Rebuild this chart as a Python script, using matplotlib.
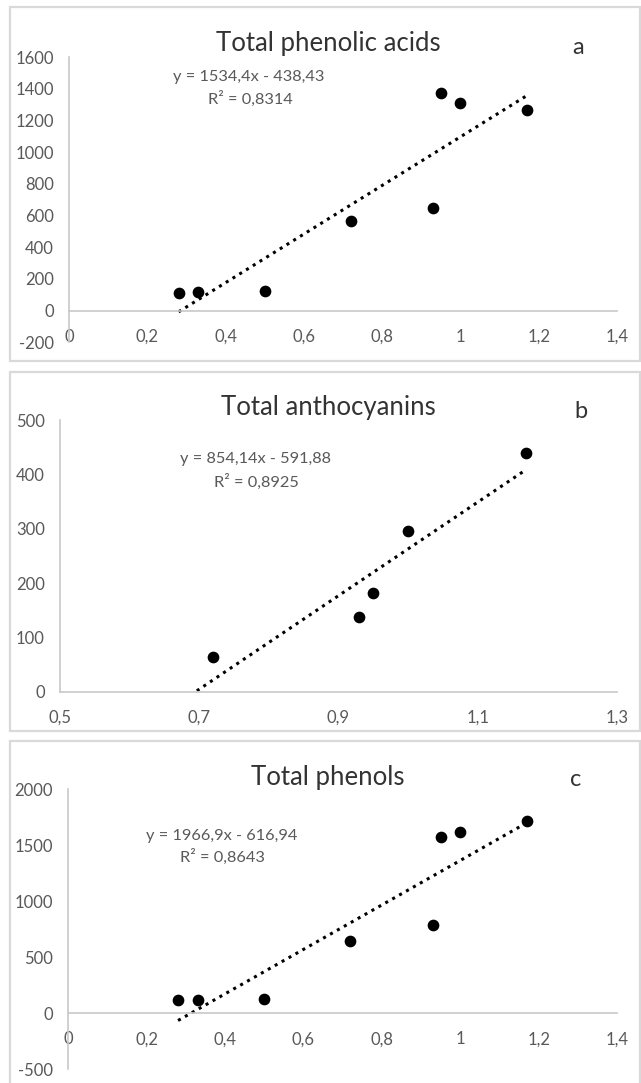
import numpy as np
import matplotlib
matplotlib.use("Agg")
import matplotlib.pyplot as plt
from matplotlib.patches import Rectangle
from matplotlib.ticker import FuncFormatter

plt.rcParams['font.family'] = ['Lato', 'DejaVu Sans']

# panel a: total phenolic acids
x_acids = [0.28, 0.33, 0.50, 0.72, 0.93, 0.95, 1.00, 1.17]
y_acids = [113, 120, 126, 567, 647, 1373, 1312, 1264]
# panel b: total anthocyanins
x_antho = [0.72, 0.93, 0.95, 1.00, 1.17]
y_antho = [63, 138, 181, 295, 439]
# panel c: total phenols
x_phen = [0.28, 0.33, 0.50, 0.72, 0.93, 0.95, 1.00, 1.17]
y_phen = [116, 116, 128, 643, 789, 1574, 1616, 1714]

titles = ["Total phenolic acids", "Total anthocyanins", "Total phenols"]
letters = ["a", "b", "c"]
equations = ["y = 1534,4x - 438,43", "y = 854,14x - 591,88", "y = 1966,9x - 616,94"]
r2_labels = ["R\u00b2 = 0,8314", "R\u00b2 = 0,8925", "R\u00b2 = 0,8643"]

W, H = 641, 1083
fig = plt.figure(figsize=(W / 100, H / 100), dpi=100)


def fx(px):
    return px / W


def fy(py):
    return 1 - py / H


def comma(v, pos):
    s = ("%.1f" % v).rstrip("0").rstrip(".")
    return s.replace(".", ",")


# panel frames (top, bottom) in pixels
frames = [(7, 361), (372, 731), (741, 1095)]
for top, bot in frames:
    fig.patches.append(Rectangle((fx(10), fy(bot)), fx(640) - fx(10), fy(top) - fy(bot),
                                 transform=fig.transFigure, fill=False,
                                 edgecolor="#d9d9d9", lw=1.6))

gray = "#595959"
axis_col = "#c8c8c8"

panels = [
    dict(x=x_acids, y=y_acids, line_x=x_acids, box=(69, 617, 57, 342.4),
         xlim=(0, 1.4), ylim=(-200, 1600), xt=np.arange(0, 1.41, 0.2), yt=np.arange(-200, 1601, 200),
         title_y=43, letter=(578, 47), eq=(249, 77), r2=(250, 99)),
    dict(x=x_antho, y=y_antho, line_x=x_acids, box=(60, 617, 420, 691.7),
         xlim=(0.5, 1.3), ylim=(0, 500), xt=np.arange(0.5, 1.31, 0.2), yt=np.arange(0, 501, 100),
         title_y=407, letter=(581, 412), eq=(256, 459), r2=(256, 482)),
    dict(x=x_phen, y=y_phen, line_x=x_phen, box=(68.3, 617, 789, 1069.3),
         xlim=(0, 1.4), ylim=(-500, 2000), xt=np.arange(0, 1.41, 0.2), yt=np.arange(-500, 2001, 500),
         title_y=777, letter=(576, 779), eq=(222, 836), r2=(222, 857)),
]

for i, p in enumerate(panels):
    l, r, t, b = p["box"]
    ax = fig.add_axes([fx(l), fy(b), fx(r) - fx(l), fy(t) - fy(b)])
    ax.scatter(p["x"], p["y"], s=55, color="black", zorder=3)
    k, c0 = np.polyfit(p["x"], p["y"], 1)
    lx = np.array([min(p["line_x"]), max(p["line_x"])])
    ax.plot(lx, k * lx + c0, color="black", linestyle=(0, (1, 1.6)), lw=2.2, zorder=2)
    ax.set_xlim(*p["xlim"])
    ax.set_ylim(*p["ylim"])
    ax.set_xticks(p["xt"])
    ax.set_yticks(p["yt"])
    ax.xaxis.set_major_formatter(FuncFormatter(comma))
    ax.yaxis.set_major_formatter(FuncFormatter(lambda v, pos: "%d" % v))
    for s in ["top", "right"]:
        ax.spines[s].set_visible(False)
    ax.spines["bottom"].set_position(("data", 0))
    ax.spines["bottom"].set_color(axis_col)
    ax.spines["left"].set_color(axis_col)
    ax.spines["bottom"].set_linewidth(1.2)
    ax.spines["left"].set_linewidth(1.2)
    ax.tick_params(length=0, labelsize=12, colors=gray)
    ax.tick_params(axis="x", pad=13)
    ax.tick_params(axis="y", pad=11)
    ax.set_facecolor("none")

    fig.text(fx(328), fy(p["title_y"]), titles[i], ha="center", va="center",
             fontsize=18.5, color="#333333")
    fig.text(fx(p["letter"][0]), fy(p["letter"][1]), letters[i], ha="center", va="center",
             fontsize=17, color="#333333")
    fig.text(fx(p["eq"][0]), fy(p["eq"][1]), equations[i], ha="center", va="center",
             fontsize=11.8, color=gray)
    fig.text(fx(p["r2"][0]), fy(p["r2"][1]), r2_labels[i], ha="center", va="center",
             fontsize=11.8, color=gray)

fig.savefig("out.png", dpi=100)
